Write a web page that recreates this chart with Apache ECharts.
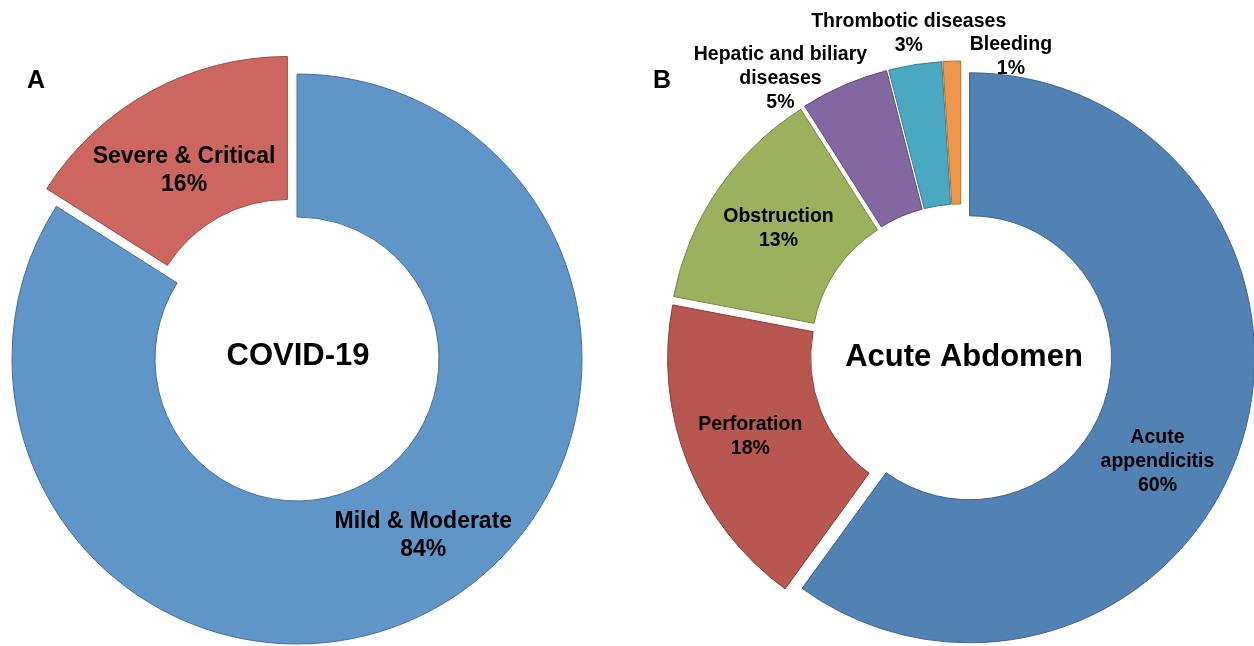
<!DOCTYPE html>
<html>
<head>
<meta charset="utf-8">
<script src="https://cdn.jsdelivr.net/npm/echarts@6/dist/echarts.min.js"></script>
<style>
    html, body { margin: 0; padding: 0; background: #fff; }
    #main { width: 1254px; height: 646px; }
</style>
</head>
<body>
<div id="main"></div>
<script>
// A: COVID-19
const namesA = ['Mild & Moderate', 'Severe & Critical'];
const valuesA = [84, 16];
// B: Acute Abdomen
const namesB = ['Acute\nappendicitis', 'Perforation', 'Obstruction', 'Hepatic and biliary\ndiseases', 'Thrombotic diseases', 'Bleeding'];
const valuesB = [60, 18, 13, 5, 3, 1];

// 颜色 / 边框
const colorsA = ['#6095C8', '#CD665F'];
const bordersA = ['#41709E', '#9E4B45'];
const colorsB = ['#5281B3', '#B85650', '#9BB15D', '#8267A0', '#4AA8C2', '#EE9649'];
const bordersB = ['#3D6592', '#8C3C37', '#748A42', '#5F4A7C', '#34808F', '#B86D2C'];

// label 微调
const offsetsA = [[22, -13], [1, 19]];
const offsetsB = [[-18, 37], [-1, -1], [4, 0], [-91, -69], [-17, -99], [57, -73]];

const FONT = '"Liberation Sans", Arial, sans-serif';

function buildData(names, values, colors, borders, offsets, selectedIdx) {
    return names.map((n, i) => ({
        name: n,
        value: values[i],
        selected: selectedIdx.includes(i),
        itemStyle: { color: colors[i], borderColor: borders[i], borderWidth: 1 },
        label: { offset: offsets[i] },
        select: {
            itemStyle: { color: colors[i], borderColor: borders[i], borderWidth: 1 },
            label: { offset: offsets[i] }
        }
    }));
}

const chart = echarts.init(document.getElementById('main'));
chart.setOption({
    animation: false,
    graphic: [
        { type: 'text', x: 36, y: 81, style: { text: 'A', font: 'bold 25px ' + FONT, fill: '#000', align: 'center', verticalAlign: 'middle' } },
        { type: 'text', x: 662, y: 81, style: { text: 'B', font: 'bold 25px ' + FONT, fill: '#000', align: 'center', verticalAlign: 'middle' } },
        { type: 'text', x: 298, y: 356, style: { text: 'COVID-19', font: 'bold 31px ' + FONT, fill: '#000', align: 'center', verticalAlign: 'middle' } },
        { type: 'text', x: 964, y: 357, style: { text: 'Acute Abdomen', font: 'bold 31px ' + FONT, fill: '#000', align: 'center', verticalAlign: 'middle' } }
    ],
    series: [
        {
            type: 'pie',
            center: [297, 359],
            radius: [142, 285],
            startAngle: 90,
            clockwise: true,
            selectedMode: 'multiple',
            selectedOffset: 20,
            avoidLabelOverlap: false,
            labelLayout: { hideOverlap: false },
            silent: true,
            label: {
                position: 'inside',
                color: '#000',
                fontFamily: FONT,
                fontWeight: 'bold',
                fontSize: 23,
                lineHeight: 28,
                formatter: p => p.name + '\n' + p.value + '%'
            },
            labelLine: { show: false },
            emphasis: { disabled: true },
            data: buildData(namesA, valuesA, colorsA, bordersA, offsetsA, [1])
        },
        {
            type: 'pie',
            center: [961, 355],
            radius: [142, 285],
            startAngle: 90,
            clockwise: true,
            selectedMode: 'multiple',
            selectedOffset: 9,
            avoidLabelOverlap: false,
            labelLayout: { hideOverlap: false },
            silent: true,
            label: {
                position: 'inside',
                color: '#000',
                fontFamily: FONT,
                fontWeight: 'bold',
                fontSize: 19.5,
                lineHeight: 24,
                formatter: p => p.name + '\n' + p.value + '%'
            },
            labelLine: { show: false },
            emphasis: { disabled: true },
            data: buildData(namesB, valuesB, colorsB, bordersB, offsetsB, [0, 1, 2, 3, 4, 5])
        }
    ]
});
</script>
</body>
</html>
